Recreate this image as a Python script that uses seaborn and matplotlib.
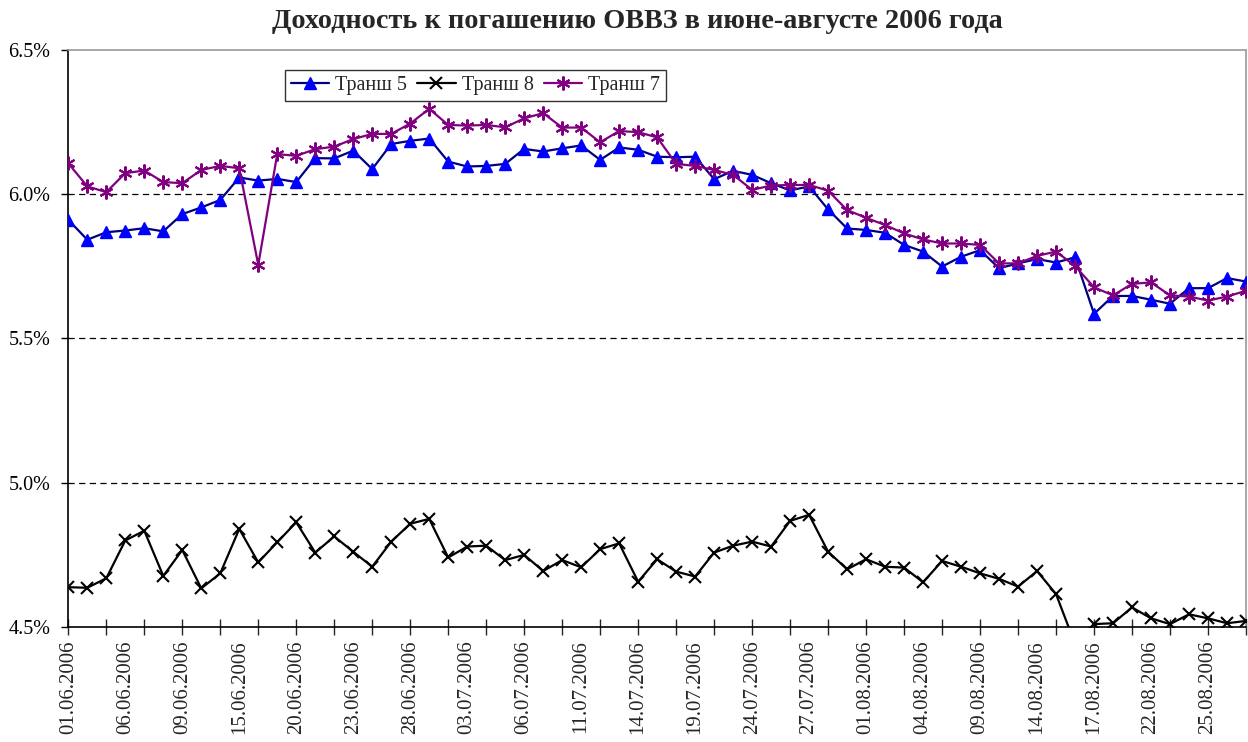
import matplotlib
matplotlib.use("Agg")
import matplotlib.pyplot as plt
from matplotlib.ticker import FixedLocator, FuncFormatter
import seaborn as sns
import pandas as pd

dates = ["01.06.2006","02.06.2006","05.06.2006","06.06.2006","07.06.2006","08.06.2006","09.06.2006",
         "13.06.2006","14.06.2006","15.06.2006","16.06.2006","19.06.2006","20.06.2006","21.06.2006",
         "22.06.2006","23.06.2006","26.06.2006","27.06.2006","28.06.2006","29.06.2006","30.06.2006",
         "03.07.2006","04.07.2006","05.07.2006","06.07.2006","07.07.2006","10.07.2006","11.07.2006",
         "12.07.2006","13.07.2006","14.07.2006","17.07.2006","18.07.2006","19.07.2006","20.07.2006",
         "21.07.2006","24.07.2006","25.07.2006","26.07.2006","27.07.2006","28.07.2006","31.07.2006",
         "01.08.2006","02.08.2006","03.08.2006","04.08.2006","07.08.2006","08.08.2006","09.08.2006",
         "10.08.2006","11.08.2006","14.08.2006","15.08.2006","16.08.2006","17.08.2006","18.08.2006",
         "21.08.2006","22.08.2006","23.08.2006","24.08.2006","25.08.2006","28.08.2006","29.08.2006"]

tranche5 = [5.911,5.842,5.868,5.874,5.882,5.871,5.931,5.954,5.980,6.058,6.047,6.053,6.042,6.125,6.124,
            6.151,6.087,6.174,6.185,6.193,6.113,6.096,6.098,6.105,6.157,6.148,6.159,6.169,6.119,6.162,
            6.154,6.130,6.128,6.130,6.052,6.081,6.067,6.038,6.013,6.027,5.947,5.881,5.876,5.866,5.824,
            5.801,5.749,5.783,5.806,5.743,5.760,5.775,5.763,5.781,5.585,5.647,5.647,5.634,5.620,5.674,
            5.674,5.709,5.697]

tranche8 = [4.637,4.635,4.668,4.799,4.833,4.676,4.766,4.633,4.685,4.839,4.723,4.793,4.862,4.757,4.813,
            4.760,4.708,4.795,4.857,4.874,4.740,4.778,4.781,4.731,4.749,4.693,4.731,4.706,4.769,4.789,
            4.656,4.734,4.691,4.674,4.757,4.781,4.795,4.778,4.867,4.888,4.760,4.699,4.734,4.708,4.705,
            4.654,4.728,4.708,4.685,4.666,4.639,4.693,4.613,4.440,4.509,4.512,4.567,4.529,4.509,4.543,
            4.529,4.512,4.520]

tranche7 = [6.107,6.027,6.007,6.073,6.082,6.042,6.038,6.084,6.098,6.090,5.755,6.139,6.133,6.156,6.165,
            6.191,6.209,6.209,6.245,6.296,6.240,6.238,6.240,6.232,6.263,6.281,6.231,6.231,6.180,6.219,
            6.215,6.197,6.105,6.098,6.084,6.067,6.015,6.030,6.032,6.032,6.012,5.945,5.918,5.893,5.864,
            5.843,5.829,5.829,5.824,5.760,5.760,5.786,5.801,5.751,5.677,5.649,5.689,5.694,5.649,5.645,
            5.631,5.645,5.665]

series_names = ["Транш 5", "Транш 8", "Транш 7"]
title = "Доходность к погашению ОВВЗ в июне-августе 2006 года"
y_ticks = [4.5, 5.0, 5.5, 6.0, 6.5]

sns.set_style("white")
plt.rcParams["font.family"] = ["Liberation Serif", "DejaVu Serif"]

df = pd.DataFrame({"idx": range(len(dates)), "date": dates,
                   series_names[0]: tranche5, series_names[1]: tranche8, series_names[2]: tranche7})

fig = plt.figure(figsize=(12.48, 7.42), dpi=100)
ax = fig.add_axes([68.3/1248, 1 - 626.7/742, (1246 - 68.3)/1248, (626.7 - 50)/742])

styles = {
    "Транш 5": dict(color="#000080", marker="^", markerfacecolor="#0000FF", markeredgecolor="#0000FF", markersize=8),
    "Транш 8": dict(color="black", marker="x", markerfacecolor="black", markeredgecolor="black", markersize=8, markeredgewidth=1.5),
    "Транш 7": dict(color="#800080", marker=(6, 2, 0), markerfacecolor="#800080", markeredgecolor="#800080", markersize=10, markeredgewidth=1.5),
}

handles = {}
for name in series_names:
    st = styles[name]
    sns.lineplot(data=df, x="idx", y=name, ax=ax, color=st["color"], linewidth=1.6,
                 marker=st["marker"], markersize=st["markersize"],
                 markerfacecolor=st["markerfacecolor"], markeredgecolor=st["markeredgecolor"],
                 markeredgewidth=st.get("markeredgewidth", 1.0), label=name, zorder=3)
    handles[name] = ax.lines[-1]

ax.set_xlim(0, len(dates) - 1)
ax.set_ylim(4.5, 6.5)

# grid lines
for v in [5.0, 5.5, 6.0]:
    ax.axhline(v, color="black", linestyle=(0, (5, 3.5)), linewidth=0.9, zorder=1)

# spines
for s in ["top", "right"]:
    ax.spines[s].set_color("#999999")
    ax.spines[s].set_linewidth(1.2)
for s in ["left", "bottom"]:
    ax.spines[s].set_color("black")
    ax.spines[s].set_linewidth(1.2)

# y axis
ax.yaxis.set_major_locator(FixedLocator(y_ticks))
ax.yaxis.set_major_formatter(FuncFormatter(lambda v, p: f"{v:.1f}%"))
ax.tick_params(axis="y", which="major", direction="out", length=5, width=1, colors="black",
               labelsize=14.5, left=True, pad=8)

# x axis: tick marks every 2 points, labels every 3 points
ax.xaxis.remove_overlapping_locs = False
ax.xaxis.set_major_locator(FixedLocator(list(range(0, len(dates), 2))))
ax.xaxis.set_major_formatter(FuncFormatter(lambda v, p: ""))
ax.xaxis.set_minor_locator(FixedLocator(list(range(0, len(dates), 3))))
ax.xaxis.set_minor_formatter(FuncFormatter(lambda v, p: dates[int(round(v))]))
ax.tick_params(axis="x", which="major", direction="inout", length=12, width=1, bottom=True)
ax.tick_params(axis="x", which="minor", length=0, labelsize=15, labelrotation=90, pad=10, bottom=True)
ax.set_xlabel("")
ax.set_ylabel("")

leg = ax.legend([handles[n] for n in series_names], series_names, ncol=3, loc="upper left",
                bbox_to_anchor=(0.184, 0.966), frameon=True, fancybox=False, fontsize=14.5,
                handlelength=1.9, handletextpad=0.3, columnspacing=0.5, borderpad=0.3,
                borderaxespad=0)
leg.get_frame().set_edgecolor("black")
leg.get_frame().set_linewidth(1.0)

fig.text(0.511, 1 - 21/742, title, ha="center", va="center", fontsize=20.3, fontweight="bold")

fig.savefig("out.png", dpi=100)
